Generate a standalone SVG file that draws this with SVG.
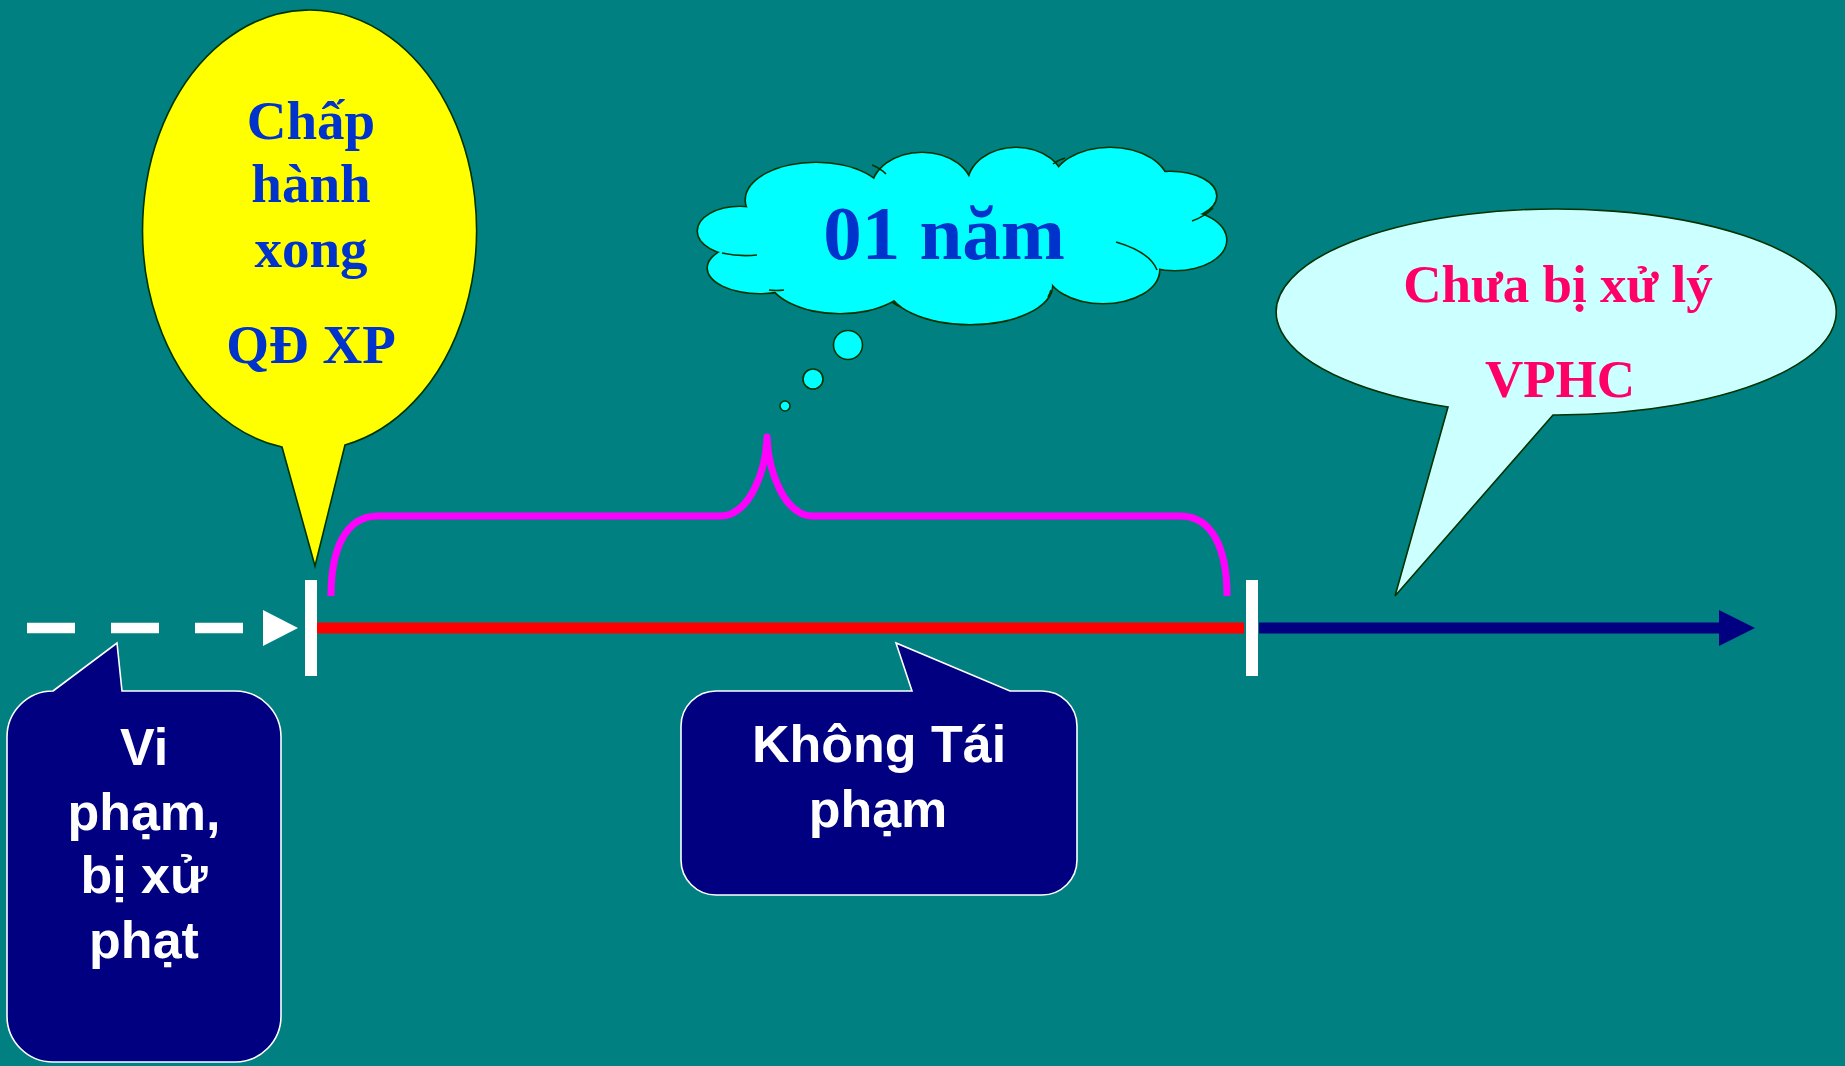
<svg xmlns="http://www.w3.org/2000/svg" width="1845" height="1066" viewBox="0 0 1845 1066">
<style>
.outline{stroke:#003300;stroke-width:1.6}
.serif{font-family:"Liberation Serif","Times New Roman",serif;font-weight:bold;text-anchor:middle}
.sans{font-family:"Liberation Sans",Arial,sans-serif;font-weight:bold;text-anchor:middle;fill:#ffffff}
.blue{fill:#0033cc}
.pink{fill:#ff0066}
.box{fill:#000080;stroke:#ffffff;stroke-width:1.6}
.cloud{fill:#00ffff}
</style>
<rect x="0" y="0" width="1845" height="1066" fill="#008080"/>

<g id="connectors">
  <line x1="27" y1="628" x2="243" y2="628" stroke="#ffffff" stroke-width="10.6" stroke-dasharray="48 36"/>
  <polygon points="263,610 298,628 263,646" fill="#ffffff"/>
  <line x1="317" y1="628" x2="1244" y2="628" stroke="#ff0000" stroke-width="11"/>
  <line x1="1259" y1="628" x2="1722" y2="628" stroke="#000080" stroke-width="11"/>
  <polygon points="1719,610 1755,628 1719,646" fill="#000080"/>
  <rect x="305" y="580" width="12" height="96" fill="#ffffff"/>
  <rect x="1246" y="580" width="12" height="96" fill="#ffffff"/>
  <path d="M 331 596 C 331 550 345 516 378 516 L 720 516 C 750 516 766 470 767 437 C 768 470 784 516 813 516 L 1180 516 C 1213 516 1227 550 1227 596" fill="none" stroke="#ff00ff" stroke-width="7" stroke-linejoin="round"/>
</g>

<g id="node-chap-hanh">
  <path class="outline" fill="#ffff00" d="M 282 447 L 315 566 L 345 445 A 167 220 0 1 0 282 447 Z"/>
  <text class="serif blue" font-size="55" x="311" y="139">Chấp</text>
  <text class="serif blue" font-size="55" x="311" y="202">hành</text>
  <text class="serif blue" font-size="55" x="311" y="267">xong</text>
  <text class="serif blue" font-size="55" x="311" y="363">QĐ XP</text>
</g>

<g id="node-01-nam">
  <g fill="#00ffff" stroke="#003300" stroke-width="3.2">
    <ellipse cx="740" cy="231" rx="42" ry="24"/>
    <ellipse cx="760" cy="268" rx="52" ry="25"/>
    <ellipse cx="840" cy="275" rx="72" ry="38"/>
    <ellipse cx="970" cy="285" rx="82" ry="39"/>
    <ellipse cx="1103" cy="270" rx="56" ry="33"/>
    <ellipse cx="1175" cy="240" rx="51" ry="30"/>
    <ellipse cx="1170" cy="196" rx="46" ry="24"/>
    <ellipse cx="1110" cy="185" rx="58" ry="37"/>
    <ellipse cx="1016" cy="185" rx="48" ry="37"/>
    <ellipse cx="922" cy="190" rx="50" ry="37"/>
    <ellipse cx="816" cy="200" rx="70" ry="37"/>
  </g>
  <g class="cloud">
    <ellipse cx="740" cy="231" rx="42" ry="24"/>
    <ellipse cx="760" cy="268" rx="52" ry="25"/>
    <ellipse cx="840" cy="275" rx="72" ry="38"/>
    <ellipse cx="970" cy="285" rx="82" ry="39"/>
    <ellipse cx="1103" cy="270" rx="56" ry="33"/>
    <ellipse cx="1175" cy="240" rx="51" ry="30"/>
    <ellipse cx="1170" cy="196" rx="46" ry="24"/>
    <ellipse cx="1110" cy="185" rx="58" ry="37"/>
    <ellipse cx="1016" cy="185" rx="48" ry="37"/>
    <ellipse cx="922" cy="190" rx="50" ry="37"/>
    <ellipse cx="816" cy="200" rx="70" ry="37"/>
    <ellipse cx="960" cy="235" rx="190" ry="55"/>
    <ellipse cx="1140" cy="225" rx="45" ry="22"/>
    <ellipse cx="780" cy="240" rx="40" ry="22"/>
  </g>
  <g fill="none" class="outline">
    <path d="M 722 253 Q 740 257 757 255"/>
    <path d="M 872 165 Q 880 168 886 174"/>
    <path d="M 1053 164 Q 1058 160 1065 158"/>
    <path d="M 1192 221 Q 1204 217 1213 208"/>
    <path d="M 1116 242 Q 1150 252 1157 270"/>
    <path d="M 1051 290 Q 1050 294 1048 297"/>
    <path d="M 892 302 Q 896 305 901 307"/>
    <path d="M 769 290 Q 776 291 784 290"/>
  </g>
  <circle class="outline" fill="#00ffff" cx="848" cy="345" r="14.5"/>
  <circle class="outline" fill="#00ffff" cx="813" cy="379" r="10"/>
  <circle class="outline" fill="#00ffff" cx="785" cy="406" r="5"/>
  <text class="serif blue" font-size="77" x="944" y="259">01 năm</text>
</g>

<g id="node-chua-bi-xu-ly">
  <path class="outline" fill="#ccffff" d="M 1448 407 L 1395 596 L 1553 415 A 280 103 0 1 0 1448 407 Z"/>
  <text class="serif pink" font-size="53" x="1558" y="302">Chưa bị xử lý</text>
  <text class="serif pink" font-size="53" x="1560" y="397">VPHC</text>
</g>

<g id="node-vi-pham">
  <path class="box" d="M 53 691 L 117 643 L 122 691 L 235 691 A 46 46 0 0 1 281 737 L 281 1016 A 46 46 0 0 1 235 1062 L 53 1062 A 46 46 0 0 1 7 1016 L 7 737 A 46 46 0 0 1 53 691 Z"/>
  <text class="sans" font-size="52" x="144" y="765">Vi</text>
  <text class="sans" font-size="52" x="144" y="830">phạm,</text>
  <text class="sans" font-size="52" x="144" y="893">bị xử</text>
  <text class="sans" font-size="52" x="144" y="958">phạt</text>
</g>

<g id="node-khong-tai-pham">
  <path class="box" d="M 716 691 L 912 691 L 896 643 L 1010 691 L 1042 691 A 35 35 0 0 1 1077 726 L 1077 860 A 35 35 0 0 1 1042 895 L 716 895 A 35 35 0 0 1 681 860 L 681 726 A 35 35 0 0 1 716 691 Z"/>
  <text class="sans" font-size="52" x="879" y="762">Không Tái</text>
  <text class="sans" font-size="52" x="878" y="827">phạm</text>
</g>
</svg>
